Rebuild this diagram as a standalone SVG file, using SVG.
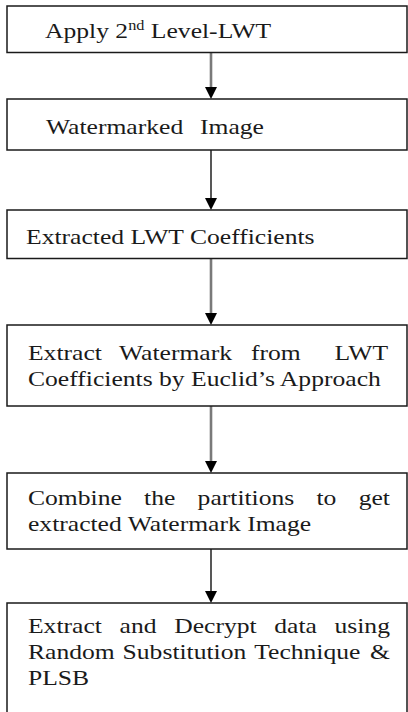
<svg xmlns="http://www.w3.org/2000/svg" width="408" height="712" viewBox="0 0 408 712">
<style>
.box{fill:#fff;stroke:#1a1a1a;stroke-width:1.5}
.t{font-family:"Liberation Serif","Times New Roman",Times,"DejaVu Serif",serif;font-size:22px;fill:#1a1a1a}
.c1{stroke:#7a7a7a;stroke-width:2.6;fill:none}
.c2{stroke:#111;stroke-width:1.4;fill:none}
.ah{fill:#000}
</style>
<defs>
<path id="head" d="M-6,-12 L6,-12 L0,0 Z"/>
</defs>
<rect width="408" height="712" fill="#fff"/>
<g id="connectors">
<line class="c1" x1="211" y1="53" x2="211" y2="88"/>
<use href="#head" class="ah" x="211" y="99"/>
<line class="c2" x1="211" y1="150" x2="211" y2="199"/>
<use href="#head" class="ah" x="211" y="210"/>
<line class="c1" x1="211" y1="259" x2="211" y2="314"/>
<use href="#head" class="ah" x="211" y="325"/>
<line class="c1" x1="211" y1="406" x2="211" y2="462"/>
<use href="#head" class="ah" x="211" y="473"/>
<line class="c2" x1="211" y1="549" x2="211" y2="592"/>
<use href="#head" class="ah" x="211" y="603"/>
</g>
<g id="n1">
<rect class="box" x="7" y="6" width="400" height="46.5"/>
<text class="t" transform="scale(1.164,1)" x="38.66" y="38">Apply 2<tspan font-size="14" dy="-8">nd</tspan><tspan dy="8"> Level-LWT</tspan></text>
</g>
<g id="n2">
<rect class="box" x="7" y="99" width="400" height="51"/>
<text class="t" transform="scale(1.164,1)" y="134"><tspan x="39.52">Watermarked</tspan><tspan x="171.82">Image</tspan></text>
</g>
<g id="n3">
<rect class="box" x="7" y="210" width="400" height="48.5"/>
<text class="t" transform="scale(1.164,1)" x="22.34" y="244">Extracted LWT Coefficients</text>
</g>
<g id="n4">
<rect class="box" x="7" y="325" width="400" height="81"/>
<text class="t" transform="scale(1.164,1)" y="360"><tspan x="24.05">Extract</tspan><tspan x="102.23">Watermark</tspan><tspan x="215.64">from</tspan><tspan x="287.46">LWT</tspan></text>
<text class="t" transform="scale(1.164,1)" x="24.05" y="386">Coefficients by Euclid’s Approach</text>
</g>
<g id="n5">
<rect class="box" x="7" y="473" width="400" height="76"/>
<text class="t" transform="scale(1.164,1)" y="505"><tspan x="24.05">Combine</tspan><tspan x="123.80">the</tspan><tspan x="169.76">partitions</tspan><tspan x="271.91">to</tspan><tspan x="308.16">get</tspan></text>
<text class="t" transform="scale(1.164,1)" x="24.05" y="531">extracted Watermark Image</text>
</g>
<g id="n6">
<rect class="box" x="7" y="603" width="400" height="130"/>
<text class="t" transform="scale(1.164,1)" y="633"><tspan x="24.05">Extract</tspan><tspan x="102.75">and</tspan><tspan x="149.66">Decrypt</tspan><tspan x="235.65">data</tspan><tspan x="287.37">using</tspan></text>
<text class="t" transform="scale(1.164,1)" y="659"><tspan x="24.05">Random</tspan><tspan x="105.33">Substitution</tspan><tspan x="218.38">Technique</tspan><tspan x="317.96">&amp;</tspan></text>
<text class="t" transform="scale(1.164,1)" x="24.05" y="685">PLSB</text>
</g>
</svg>
